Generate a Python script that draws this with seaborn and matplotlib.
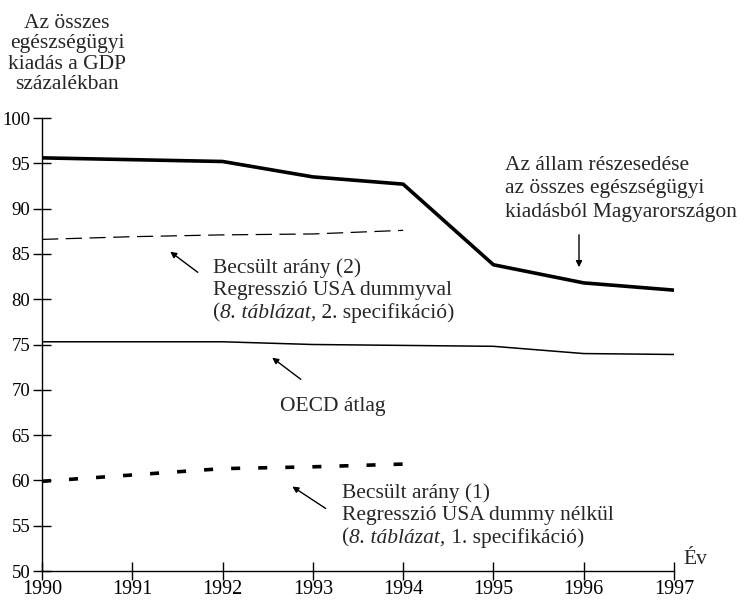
import matplotlib
matplotlib.use("Agg")
import matplotlib.pyplot as plt
import seaborn as sns
import pandas as pd

years = [1990, 1991, 1992, 1993, 1994, 1995, 1996, 1997]
hungary = [95.6, 95.4, 95.2, 93.5, 92.7, 83.8, 81.8, 81.0]
oecd = [75.3, 75.3, 75.3, 75.0, 74.9, 74.8, 74.0, 73.9]
est2_years = [1990, 1991, 1992, 1993, 1994]
est2 = [86.6, 86.9, 87.1, 87.2, 87.6]
est1_years = [1990, 1991, 1992, 1993, 1994]
est1 = [59.9, 60.6, 61.3, 61.5, 61.8]
y_ticks = [50, 55, 60, 65, 70, 75, 80, 85, 90, 95, 100]

sns.set_style("ticks")
plt.rcParams["font.family"] = ["Liberation Serif", "DejaVu Serif"]

W, H = 750, 602
fig = plt.figure(figsize=(7.5, 6.02), dpi=100)
ax = fig.add_axes([42 / W, 31 / H, 632 / W, 453 / H])

df_h = pd.DataFrame({"ev": years, "v": hungary})
df_o = pd.DataFrame({"ev": years, "v": oecd})
df_2 = pd.DataFrame({"ev": est2_years, "v": est2})
df_1 = pd.DataFrame({"ev": est1_years, "v": est1})

sns.lineplot(data=df_h, x="ev", y="v", ax=ax, color="black", lw=2.6)
sns.lineplot(data=df_o, x="ev", y="v", ax=ax, color="black", lw=1.1)
sns.lineplot(data=df_2, x="ev", y="v", ax=ax, color="black", lw=0.9,
             linestyle=(0, (13, 6)))
sns.lineplot(data=df_1, x="ev", y="v", ax=ax, color="black", lw=2.6,
             linestyle=(0, (2.5, 5)))

ax.set_xlim(1990, 1997)
ax.set_ylim(50, 100)
ax.set_xticks(years)
ax.set_yticks(y_ticks)
ax.set_xlabel("")
ax.set_ylabel("")
sns.despine(ax=ax)
for sp in ["left", "bottom"]:
    ax.spines[sp].set_linewidth(1.0)
    ax.spines[sp].set_color("black")
ax.tick_params(direction="inout", length=13, width=1.0, labelsize=14.5, colors="black")
ax.tick_params(axis="y", pad=2, labelsize=13.5)
ax.tick_params(axis="x", pad=0)

fs = 15.5


def px(x, y):
    return (x / W, 1 - y / H)


def mixed_line(x, y, parts):
    # parts: list of (text, style) drawn one after another on a single line
    renderer = fig.canvas.get_renderer()
    cur = x
    for txt, style in parts:
        t = fig.text(*px(cur, y), txt, ha="left", va="center", fontsize=fs, style=style)
        bb = t.get_window_extent(renderer=renderer)
        cur += bb.width


fig.text(67 / W, 1 - 54 / H, "Az összes\negészségügyi\nkiadás a GDP\nszázalékban",
         ha="center", va="center", fontsize=fs, linespacing=1.08)
fig.text(*px(683, 560), "Év", ha="left", va="center", fontsize=fs)

arrow = dict(arrowstyle="-|>", color="black", lw=1.0, mutation_scale=9)

hu_lines = ["Az állam részesedése", "az összes egészségügyi", "kiadásból Magyarországon"]
for i, line in enumerate(hu_lines):
    fig.text(*px(505, 165 + 24 * i), line, ha="left", va="center", fontsize=fs)
ax.annotate("", xy=px(579, 270), xytext=px(579, 232), xycoords="figure fraction",
            textcoords="figure fraction", arrowprops=arrow)

fig.text(*px(213, 268), "Becsült arány (2)", ha="left", va="center", fontsize=fs)
fig.text(*px(213, 290.5), "Regresszió USA dummyval", ha="left", va="center", fontsize=fs)
mixed_line(213, 313, [("(", "normal"), ("8. táblázat,", "italic"), (" 2. specifikáció)", "normal")])
ax.annotate("", xy=px(168, 250), xytext=px(200, 274), xycoords="figure fraction",
            textcoords="figure fraction", arrowprops=arrow)

fig.text(*px(280, 406), "OECD átlag", ha="left", va="center", fontsize=fs)
ax.annotate("", xy=px(270, 356), xytext=px(303, 381), xycoords="figure fraction",
            textcoords="figure fraction", arrowprops=arrow)

fig.text(*px(342, 493), "Becsült arány (1)", ha="left", va="center", fontsize=fs)
fig.text(*px(342, 515.5), "Regresszió USA dummy nélkül", ha="left", va="center", fontsize=fs)
mixed_line(342, 538, [("(", "normal"), ("8. táblázat,", "italic"), (" 1. specifikáció)", "normal")])
ax.annotate("", xy=px(290, 485), xytext=px(328, 510), xycoords="figure fraction",
            textcoords="figure fraction", arrowprops=arrow)

fig.savefig("out.png", dpi=100, facecolor="white")
